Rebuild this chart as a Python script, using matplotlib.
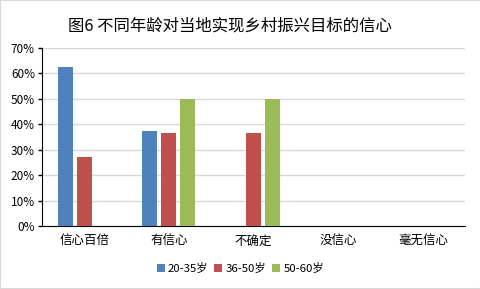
import matplotlib
matplotlib.use("Agg")
import matplotlib.pyplot as plt
import numpy as np
from matplotlib.ticker import PercentFormatter

plt.rcParams['font.family'] = ['Noto Sans CJK SC', 'DejaVu Sans']

categories = ['信心百倍', '有信心', '不确定', '没信心', '毫无信心']
series_names = ['20-35岁', '36-50岁', '50-60岁']
age_20_35 = [62.5, 37.5, 0, 0, 0]
age_36_50 = [27.3, 36.4, 36.4, 0, 0]
age_50_60 = [0, 50.0, 50.0, 0, 0]
colors = ['#4F81BD', '#C0504D', '#9BBB59']

fig = plt.figure(figsize=(4.81, 2.89), dpi=100)
fig.patches.append(plt.Rectangle((0, 0), 1, 1, transform=fig.transFigure,
                                 fill=False, edgecolor='#D9D9D9', linewidth=1.5))
ax = fig.add_axes([0.087, 0.218, 0.88, 0.616])

x = np.arange(len(categories))
width = 0.18
offsets = [-0.225, 0, 0.225]
for vals, off, c, name in zip([age_20_35, age_36_50, age_50_60], offsets, colors, series_names):
    ax.bar(x + off, vals, width, color=c, label=name, zorder=3)

ax.set_xlim(-0.5, len(categories) - 0.5)
ax.set_ylim(0, 70)
ax.set_yticks(np.arange(0, 71, 10))
ax.yaxis.set_major_formatter(PercentFormatter(decimals=0))
ax.set_xticks(x)
ax.set_xticklabels(categories, fontsize=9)
ax.tick_params(axis='y', labelsize=8.5, length=3, width=1, pad=2)
ax.tick_params(axis='x', length=0, pad=6)
ax.grid(axis='y', color='#D9D9D9', linewidth=1, zorder=0)
for s in ['top', 'right']:
    ax.spines[s].set_visible(False)
ax.spines['left'].set_color('black')
ax.spines['bottom'].set_color('black')

fig.text(0.478, 0.91, '图6 不同年龄对当地实现乡村振兴目标的信心', ha='center', va='center',
         fontsize=11.8, fontweight='light')
fig.legend(loc='center', bbox_to_anchor=(0.5, 0.07), ncol=3, frameon=False, fontsize=8.2,
           handlelength=0.7, handleheight=0.7, handletextpad=0.3, columnspacing=0.5)

fig.savefig('out.png', dpi=100)
